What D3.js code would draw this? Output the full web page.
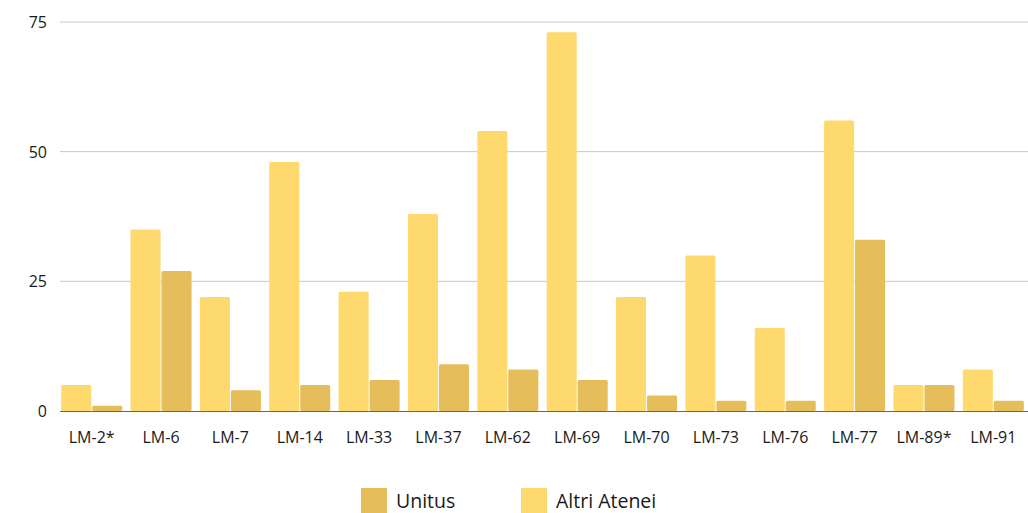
<!DOCTYPE html>
<html>
<head>
<meta charset="utf-8">
<script src="https://cdn.jsdelivr.net/npm/d3@7"></script>
<style>
  body { margin: 0; background: #fff; }
  text { font-family: "Open Sans", sans-serif; }
</style>
</head>
<body>
<svg id="chart"></svg>
<script>
const categories = ["LM-2*", "LM-6", "LM-7", "LM-14", "LM-33", "LM-37", "LM-62", "LM-69", "LM-70", "LM-73", "LM-76", "LM-77", "LM-89*", "LM-91"];
const altriAtenei = [5, 35, 22, 48, 23, 38, 54, 73, 22, 30, 16, 56, 5, 8];
const unitus = [1, 27, 4, 5, 6, 9, 8, 6, 3, 2, 2, 33, 5, 2];
const yTicks = [0, 25, 50, 75];
const seriesNames = ["Altri Atenei", "Unitus"];
const colors = { "Altri Atenei": "#fdd96e", "Unitus": "#e5be5b" };

const width = 1028, height = 513;
const svg = d3.select("#chart").attr("width", width).attr("height", height);

const x = d3.scaleBand().domain(categories).range([57, 1028]).paddingInner(0.12).paddingOuter(0.06);
const xs = d3.scaleBand().domain(seriesNames).range([0, x.bandwidth()]).paddingInner(0.03);
const y = d3.scaleLinear().domain([0, 75]).range([411, 22]);

// gridlines
svg.append("g").selectAll("line").data(yTicks.filter(d => d > 0)).join("line")
  .attr("x1", 60).attr("x2", width)
  .attr("y1", d => y(d)).attr("y2", d => y(d))
  .attr("stroke", "#c8c8c8").attr("stroke-width", 1);

// y labels
svg.append("g").selectAll("text").data(yTicks).join("text")
  .attr("x", 47).attr("y", d => y(d) + 6)
  .attr("text-anchor", "end").attr("font-size", 16).attr("fill", "#1a1a1a")
  .text(d => d);

const data = categories.map((c, i) => ({ cat: c, "Altri Atenei": altriAtenei[i], "Unitus": unitus[i] }));

const groups = svg.append("g").selectAll("g").data(data).join("g")
  .attr("transform", d => `translate(${x(d.cat)},0)`);

groups.selectAll("rect").data(d => seriesNames.map(k => ({ key: k, value: d[k] }))).join("rect")
  .attr("x", d => xs(d.key))
  .attr("width", xs.bandwidth())
  .attr("y", d => y(d.value))
  .attr("height", d => y(0) - y(d.value))
  .attr("rx", 1.5)
  .attr("fill", d => colors[d.key]);

// baseline
svg.append("line").attr("x1", 60).attr("x2", width).attr("y1", y(0) + 0.5).attr("y2", y(0) + 0.5)
  .attr("stroke", "#666").attr("stroke-width", 1);

// x labels
svg.append("g").selectAll("text").data(categories).join("text")
  .attr("x", d => x(d) + x.bandwidth() / 2).attr("y", 443)
  .attr("text-anchor", "middle").attr("font-size", 16).attr("fill", "#1a1a1a")
  .text(d => d);

// legend
const legendItems = [{ name: "Unitus", x: 361 }, { name: "Altri Atenei", x: 521 }];
const legend = svg.append("g").selectAll("g").data(legendItems).join("g")
  .attr("transform", d => `translate(${d.x},488)`);
legend.append("rect").attr("width", 26).attr("height", 26).attr("fill", d => colors[d.name]);
legend.append("text").attr("x", 35).attr("y", 20).attr("font-size", 19.5).attr("fill", "#1a1a1a").text(d => d.name);
</script>
</body>
</html>
